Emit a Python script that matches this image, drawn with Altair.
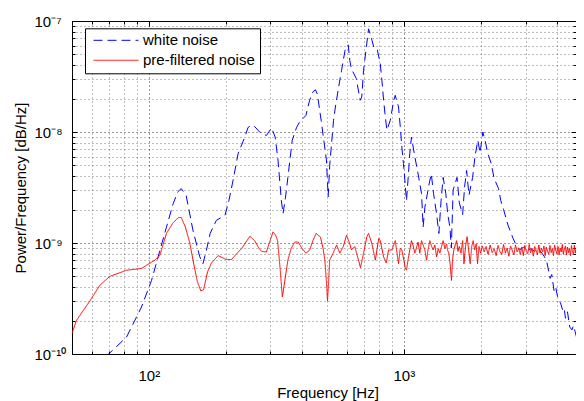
import altair as alt
import pandas as pd

# ---------------- data ----------------
# white noise PSD: (frequency Hz, power)
white_noise = [
    (68, 0.95e-10), (81.8, 1.42e-10), (93.6, 2.65e-10), (102.5, 4.6e-10), (108.8, 7.5e-10),
    (117.3, 1.39e-9), (124.6, 2.26e-9), (130, 2.9e-9), (134, 3.09e-9), (140, 2.7e-9),
    (149, 1.3e-9), (158.5, 7.5e-10), (163, 6.5e-10), (168, 8.5e-10), (174, 1.22e-9),
    (184, 1.6e-9), (199, 1.78e-9), (206, 2.4e-9), (214, 3.67e-9), (224, 6.4e-9),
    (238, 9.0e-9), (245, 1.1e-8), (253, 1.15e-8), (260, 1.12e-8), (272, 1.0e-8),
    (289, 9.3e-9), (303, 1.09e-8), (313, 9.0e-9), (321, 5.6e-9), (331, 2.4e-9),
    (336, 1.84e-9), (343, 2.5e-9), (351, 3.9e-9), (365, 8.4e-9), (379, 1.09e-8),
    (390, 1.23e-8), (413, 1.41e-8), (427, 1.93e-8), (440, 2.3e-8), (450, 2.4e-8),
    (458, 2.2e-8), (474, 1.27e-8), (497, 5.6e-9), (505, 2.6e-9), (512, 5.0e-9),
    (530, 1.27e-8), (539, 1.68e-8), (555, 2.54e-8), (570, 3.6e-8), (588, 5.45e-8),
    (605, 6.1e-8), (614, 4.4e-8), (623, 3.7e-8), (651, 3.03e-8), (674, 1.93e-8),
    (684, 2.07e-8), (695, 3.6e-8), (713, 5.83e-8), (727, 8.5e-8), (740, 7.5e-8),
    (750, 6.7e-8), (762, 5.83e-8), (785, 5.64e-8), (808, 4.13e-8), (820, 2.93e-8),
    (833, 1.93e-8), (846, 1.36e-8), (858, 1.04e-8), (884, 1.27e-8), (913, 1.93e-8),
    (925, 2.14e-8), (953, 1.68e-8), (968, 1.12e-8), (982, 7.3e-9), (996, 5.2e-9),
    (1009, 3.7e-9), (1024, 2.4e-9), (1040, 3.9e-9), (1055, 6.4e-9), (1071, 9.0e-9),
    (1104, 6.0e-9), (1137, 4.2e-9), (1173, 2.79e-9), (1190, 1.39e-9), (1209, 2.1e-9),
    (1256, 3.4e-9), (1281, 4.2e-9), (1307, 2.8e-9), (1343, 1.84e-9), (1372, 1.22e-9),
    (1399, 2.4e-9), (1426, 3.9e-9), (1460, 2.8e-9), (1485, 1.84e-9), (1515, 1.39e-9),
    (1535, 9.0e-10), (1560, 3.0e-9), (1616, 3.9e-9), (1650, 2.3e-9), (1700, 1.8e-9),
    (1730, 3.2e-9), (1762, 4.5e-9), (1800, 2.7e-9), (1860, 3.9e-9), (1900, 6.0e-9),
    (1950, 8.4e-9), (1990, 6.5e-9), (2040, 1.0e-8), (2080, 8.5e-9), (2130, 6.5e-9),
    (2200, 5.2e-9), (2260, 3.8e-9), (2350, 3.1e-9), (2400, 2.4e-9), (2460, 2.0e-9),
    (2560, 1.45e-9), (2680, 1.1e-9), (2760, 9.5e-10), (2850, 8.7e-10), (2950, 9.2e-10),
    (3050, 8.5e-10), (3150, 8.9e-10), (3250, 8.4e-10), (3350, 8.8e-10), (3450, 8.3e-10),
    (3560, 7.5e-10), (3634, 6.8e-10), (3700, 5.5e-10), (3743, 4.8e-10), (3800, 5.2e-10),
    (3880, 3.7e-10), (3940, 4.0e-10), (3980, 3.5e-10), (4050, 3.0e-10), (4110, 2.9e-10),
    (4190, 2.5e-10), (4250, 2.6e-10), (4300, 2.1e-10), (4380, 2.4e-10), (4470, 1.75e-10),
    (4560, 1.65e-10), (4620, 1.8e-10), (4690, 1.6e-10), (4760, 1.4e-10), (4820, 1.25e-10),
    (4900, 1.3e-10), (5000, 1.1e-10), (5100, 1.0e-10),
]

# pre-filtered noise PSD below ~2 kHz: (frequency Hz, power in units of 1e-10)
pre_filtered = [
    (50, 1.53), (52, 2.0), (58.7, 3.0), (64.3, 4.16), (70.3, 5.0), (81.8, 5.68), (93.6, 5.9),
    (105.6, 7.0), (110.4, 7.7), (117.3, 12.2), (124, 15.0), (130.3, 16.9), (134, 17.0),
    (139, 14.0), (144.8, 10.0), (150, 6.5), (155, 4.5), (160, 3.7), (164, 3.8), (170, 5.5),
    (176, 6.6), (187, 7.7), (201, 7.1), (211, 7.1), (221, 8.0), (231, 8.9), (249, 11.5),
    (260, 10.5), (270, 9.0), (277, 8.4), (289, 8.3), (301, 11.0), (307, 12.6), (314, 11.8),
    (320, 10.5), (327, 6.0), (334, 3.26), (341, 4.5), (351, 7.0), (362, 9.0), (374, 10.2),
    (385, 10.2), (398, 9.0), (413, 8.1), (427, 8.6), (440, 10.5), (453, 12.2), (471, 11.3),
    (482, 9.0), (490, 7.0), (497, 4.5), (502, 3.0), (507, 4.5), (512, 7.0), (528, 8.1),
    (545, 9.6), (561, 8.1), (579, 9.3), (596, 11.8), (614, 9.8), (623, 8.65), (642, 9.3),
    (664, 7.0), (676, 6.0), (695, 8.1), (716, 11.4), (727, 12.2), (750, 9.8), (773, 7.0),
    (797, 11.0), (808, 10.5), (833, 7.5), (853, 6.6), (871, 8.65), (897, 8.65), (925, 10.5),
    (953, 6.5), (968, 9.0), (982, 8.65), (1000, 7.0), (1012, 6.0), (1024, 5.7), (1040, 7.2),
    (1055, 8.65), (1071, 10.5), (1088, 9.4), (1104, 8.1), (1120, 9.0), (1137, 10.2),
    (1155, 8.1), (1173, 10.5), (1190, 9.6), (1209, 8.65), (1227, 7.0), (1245, 8.8),
    (1264, 10.5), (1283, 9.4), (1303, 8.65), (1323, 9.6), (1343, 7.5), (1364, 8.9),
    (1384, 8.1), (1405, 9.3), (1426, 10.5), (1448, 8.9), (1470, 9.8), (1485, 8.6),
    (1500, 8.1), (1518, 6.5), (1537, 4.6), (1553, 7.2), (1570, 8.65), (1590, 9.6),
    (1610, 10.5), (1630, 8.4), (1650, 9.3), (1675, 8.1), (1700, 10.5), (1720, 6.5),
    (1745, 9.3), (1770, 11.4), (1795, 8.65), (1820, 6.5), (1845, 9.3), (1870, 10.5),
    (1895, 8.65), (1920, 9.8), (1945, 6.5), (1970, 9.3), (2000, 8.1), (2030, 9.4), (2065, 8.3),
]

# pre-filtered noise, flat dense band above ~2 kHz (Hz, power in units of 1e-10)
band_f = [
    2100, 2140, 2180, 2220, 2260, 2300, 2340, 2380, 2420, 2460, 2500, 2540, 2580, 2620,
    2660, 2700, 2740, 2780, 2820, 2860, 2900, 2940, 2980, 3020, 3060, 3100, 3140, 3180,
    3220, 3260, 3300, 3340, 3380, 3420, 3460, 3500, 3540, 3580, 3620, 3660, 3700, 3740,
    3780, 3820, 3860, 3900, 3940, 3980, 4020, 4060, 4100, 4140, 4180, 4220, 4260, 4300,
    4340, 4380, 4420, 4460, 4500, 4540, 4580, 4620, 4660, 4700, 4740, 4780, 4820, 4860,
    4900, 4940, 4980, 5020,
]
band_p = [
    9.3, 7.9, 9.6, 8.2, 8.9, 7.7, 9.5, 8.4, 7.9, 9.7, 8.1, 9.0, 7.6, 9.4,
    8.6, 7.8, 9.6, 8.3, 9.0, 7.9, 9.2, 7.7, 9.5, 8.4, 8.0, 9.7, 8.2, 8.9,
    7.6, 9.3, 8.6, 7.8, 9.6, 8.1, 9.0, 8.3, 9.4, 7.7, 9.2, 8.4, 7.9, 9.5,
    8.2, 8.9, 7.7, 9.6, 8.6, 8.0, 9.3, 7.8, 9.0, 8.3, 9.7, 7.9, 8.8, 9.4,
    7.8, 9.2, 8.2, 8.9, 7.7, 9.5, 8.4, 7.9, 9.6, 8.1, 9.0, 8.6, 9.3, 7.7,
    9.2, 8.3, 8.9, 8.5,
]

series = ["white noise", "pre-filtered noise"]
x_ticks = [50, 60, 70, 80, 90, 100, 200, 300, 400, 500, 600, 700, 800, 900,
           1000, 2000, 3000, 4000]
y_ticks = [1e-10, 2e-10, 3e-10, 4e-10, 5e-10, 6e-10, 7e-10, 8e-10, 9e-10,
           1e-9, 2e-9, 3e-9, 4e-9, 5e-9, 6e-9, 7e-9, 8e-9, 9e-9,
           1e-8, 2e-8, 3e-8, 4e-8, 5e-8, 6e-8, 7e-8, 8e-8, 9e-8, 1e-7]

# ---------------- build tables ----------------
white_df = pd.DataFrame({
    "f": [a for a, b in white_noise],
    "p": [b for a, b in white_noise],
    "s": series[0],
})
red_pairs = pre_filtered + list(zip(band_f, band_p))
red_df = pd.DataFrame({
    "f": [a for a, b in red_pairs],
    "p": [b * 1e-10 for a, b in red_pairs],
    "s": series[1],
})

# the page body is 568 px wide, so the svg must not exceed it (else it shrinks)
W, H = 504, 333
FONT = "Liberation Sans"

xs = alt.Scale(type="log", domain=[50, 4730], nice=False)
ys = alt.Scale(type="log", domain=[1e-10, 1e-7], nice=False)

x_major = "datum.value == 100 || datum.value == 1000"
y_major = ("datum.value == 1e-10 || datum.value == 1e-9 || "
           "datum.value == 1e-8 || datum.value == 1e-7")
x_label_expr = "datum.value == 100 ? '10²' : (datum.value == 1000 ? '10³' : '')"
y_label_expr = ("datum.value == 1e-7 ? '10⁻⁷' : datum.value == 1e-8 ? '10⁻⁸' : "
                "datum.value == 1e-9 ? '10⁻⁹' : datum.value == 1e-10 ? '10⁻¹⁰' : ''")

common_grid = dict(grid=True, gridDash=[1, 3], gridColor="black", gridWidth=1)

x_main = alt.Axis(
    orient="bottom", values=x_ticks, labelExpr=x_label_expr, title="Frequency [Hz]",
    gridOpacity={"condition": {"test": x_major, "value": 0.8}, "value": 0.5},
    ticks=True, tickSize=0, tickOpacity=0, domain=False,
    labelFont=FONT, labelFontSize=15, labelColor="black", labelPadding=26,
    labelBaseline="alphabetic", labelAlign="center", labelOverlap=False, labelFlush=False,
    titleFont=FONT, titleFontSize=15, titleFontWeight="normal", titleColor="black",
    titleX=255.5, titleY=43.5, titleBaseline="alphabetic", titleAlign="center",
    **common_grid,
)
y_main = alt.Axis(
    orient="left", values=y_ticks, labelExpr=y_label_expr, title="Power/Frequency [dB/Hz]",
    gridOpacity={"condition": {"test": y_major, "value": 0.8}, "value": 0.5},
    ticks=True, tickSize=0, tickOpacity=0, domain=False,
    labelFont=FONT, labelFontSize=15, labelColor="black", labelPadding=38,
    labelAlign="left", labelBaseline="middle", labelOverlap=False, labelFlush=False,
    titleFont=FONT, titleFontSize=15, titleFontWeight="normal", titleColor="black",
    titleX=-47, titleY=H / 2, titleAngle=270, titleBaseline="alphabetic", titleAlign="center",
    **common_grid,
)


def tick_axis(orient, offset, values, test):
    return alt.Axis(
        orient=orient, offset=offset, values=values, labels=False, grid=False,
        domain=False, title=None, ticks=True, tickColor="black", tickWidth=1,
        tickSize={"condition": {"test": test, "value": 5}, "value": 3},
    )


leg = alt.Legend(
    title=None, orient="none", legendX=13, legendY=7.3, direction="vertical",
    fillColor="white", strokeColor="black", padding=5, rowPadding=5, clipHeight=14,
    symbolType="stroke", symbolSize=2025, symbolStrokeWidth=1, symbolOffset=3,
    labelOffset=4, labelFont=FONT, labelFontSize=15, labelColor="black", labelLimit=300,
)
color = alt.Color("s:N", scale=alt.Scale(domain=series, range=["#0000ff", "#ff0000"]), legend=leg)
dash = alt.StrokeDash("s:N", scale=alt.Scale(domain=series, range=[[9, 5], [1, 0]]), legend=leg)

blue = alt.Chart(white_df).mark_line(strokeWidth=1, clip=True).encode(
    x=alt.X("f:Q", scale=xs, axis=x_main),
    y=alt.Y("p:Q", scale=ys, axis=y_main),
    color=color, strokeDash=dash,
)
red = alt.Chart(red_df).mark_line(strokeWidth=1, clip=True).encode(
    x=alt.X("f:Q", scale=xs, axis=tick_axis("top", -H, x_ticks, x_major)),
    y=alt.Y("p:Q", scale=ys, axis=tick_axis("right", -W, y_ticks, y_major)),
    color=color, strokeDash=dash,
)
ghost = alt.Chart(red_df).mark_line(strokeOpacity=0, clip=True).encode(
    x=alt.X("f:Q", scale=xs, axis=tick_axis("bottom", -H, x_ticks, x_major)),
    y=alt.Y("p:Q", scale=ys, axis=tick_axis("left", -W, y_ticks, y_major)),
)

chart = (
    alt.layer(blue, red, ghost)
    .resolve_axis(x="independent", y="independent")
    .properties(
        width=W, height=H,
        padding={"left": 64, "top": 13, "right": 0, "bottom": 47},
        autosize=alt.AutoSizeParams(type="none"),
        background="white",
    )
    .configure_view(stroke="black", strokeWidth=1)
)

chart.save("out.html", embed_options={"renderer": "svg", "actions": False})
